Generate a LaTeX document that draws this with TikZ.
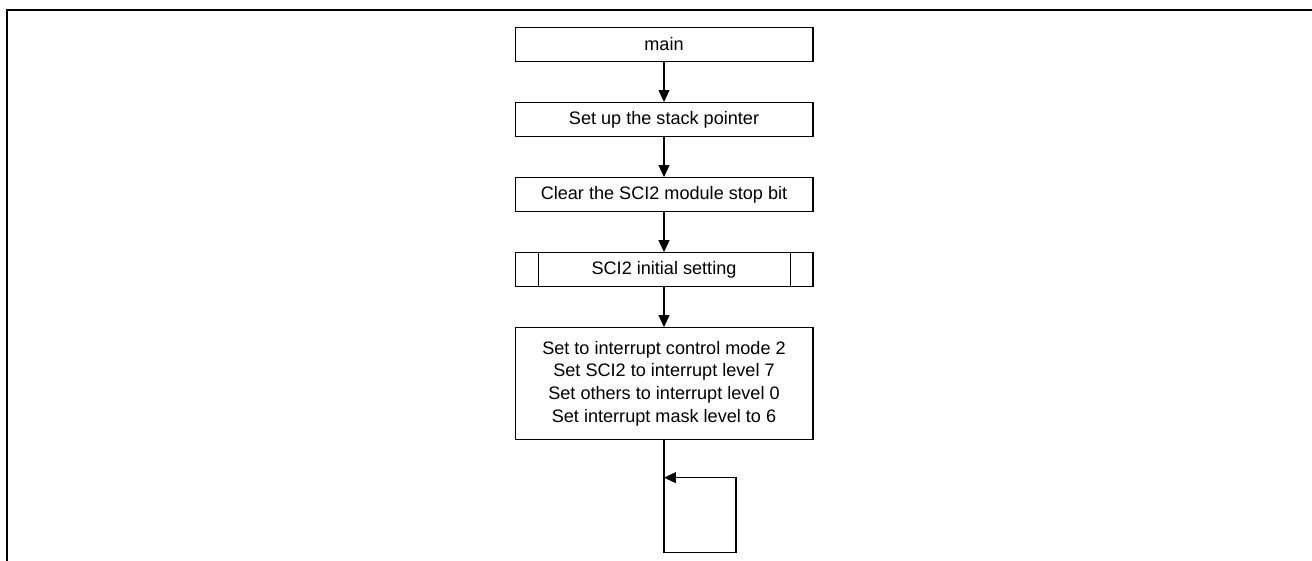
\documentclass[tikz,border=0pt]{standalone}
\usepackage{fontspec}
\setmainfont{Liberation Sans}
\usetikzlibrary{arrows.meta,positioning}

\begin{document}
\begin{tikzpicture}[x=0.02cm,y=-0.02cm]
\tikzset{stepbox/.style={draw,line width=0.6pt,minimum width=5.96cm,minimum height=0.68cm,inner sep=0pt,align=center,font=\fontsize{10.3}{12.9}\selectfont}}
\tikzset{flow/.style={line width=0.6pt,-{Triangle[length=6.8pt,width=6.2pt]}}}

\useasboundingbox (0,0) rectangle (1312,561);
\draw[line width=1pt] (7,561) -- (7,10) -- (1312,10);

\node[stepbox] (main) at (664,44.5) {main};
\node[stepbox,below=0.8cm of main] (stack) {Set up the stack pointer};
\node[stepbox,below=0.8cm of stack] (mstop) {Clear the SCI2 module stop bit};
\node[stepbox,below=0.8cm of mstop] (sciinit) {SCI2 initial setting};
\node[stepbox,below=0.8cm of sciinit,minimum height=2.24cm] (intset) {Set to interrupt control mode 2\\Set SCI2 to interrupt level 7\\Set others to interrupt level 0\\Set interrupt mask level to 6};

% side bars of the predefined process
\draw[line width=0.6pt] ([xshift=0.48cm]sciinit.north west) -- ([xshift=0.48cm]sciinit.south west);
\draw[line width=0.6pt] ([xshift=-0.46cm]sciinit.north east) -- ([xshift=-0.46cm]sciinit.south east);

\draw[flow] (main) -- (stack);
\draw[flow] (stack) -- (mstop);
\draw[flow] (mstop) -- (sciinit);
\draw[flow] (sciinit) -- (intset);

% endless loop
\coordinate (loopin) at ([yshift=-0.75cm]intset.south);
\coordinate (loopend) at ([yshift=-2.25cm]intset.south);
\coordinate (loopcorner) at ([xshift=1.44cm]loopend);
\draw[flow] (intset.south) -- (loopend) -- (loopcorner) |- (loopin);

\end{tikzpicture}
\end{document}
